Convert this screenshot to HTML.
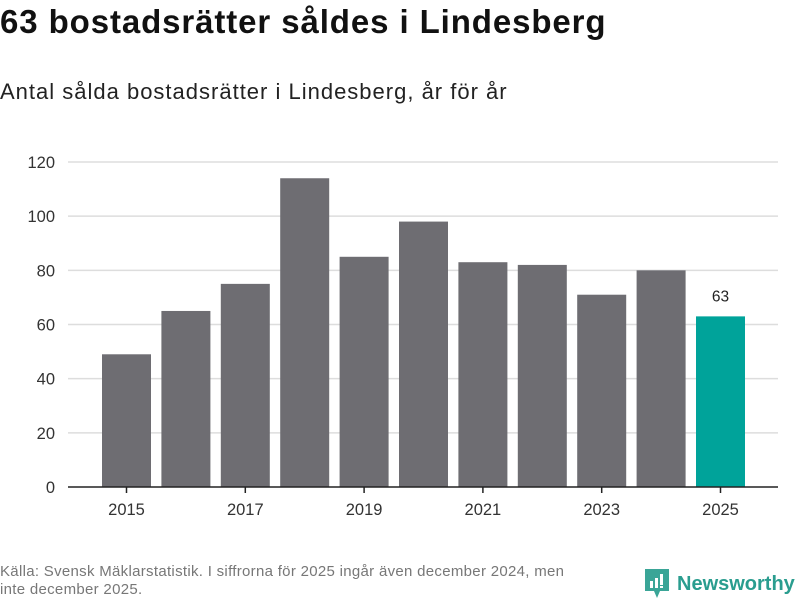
<!DOCTYPE html>
<html><head><meta charset="utf-8"><style>
body{margin:0;width:800px;height:600px;background:#fff;font-family:"Liberation Sans","DejaVu Sans",sans-serif;overflow:hidden;position:relative}
#title{position:absolute;left:0;top:3px;font-size:33px;letter-spacing:0.9px;font-weight:bold;color:#111;margin:0;white-space:nowrap}
#sub{position:absolute;left:0;top:79px;font-size:22px;letter-spacing:1px;color:#222;white-space:nowrap}
#src{position:absolute;left:0;top:563px;font-size:15px;letter-spacing:0.3px;color:#777;line-height:18px;width:660px;white-space:nowrap}
#logo{position:absolute;left:645px;top:569px;font-size:20px;font-weight:bold;color:#2a9d8f;display:flex;align-items:center;gap:8px}
svg{position:absolute;left:0;top:0}
</style></head><body>
<h1 id="title">63 bostadsrätter såldes i Lindesberg</h1>
<div id="sub">Antal sålda bostadsrätter i Lindesberg, år för år</div>
<svg id="chart" width="800" height="600"></svg>
<div id="src">Källa: Svensk Mäklarstatistik. I siffrorna för 2025 ingår även december 2024, men<br>inte december 2025.</div>
<div id="logo"><svg style="position:static" width="24" height="30" viewBox="0 0 24 30"><path d="M0 0H24V22H15L12 29L9 22H0Z" fill="#3aa597"/><rect x="5" y="12" width="3" height="7" fill="#fff"/><rect x="10" y="9" width="3" height="10" fill="#fff"/><rect x="15" y="5" width="3" height="11" fill="#fff"/><rect x="15" y="17" width="3" height="2" fill="#fff"/></svg><span>Newsworthy</span></div>
<script>
const categories=[2015,2016,2017,2018,2019,2020,2021,2022,2023,2024,2025];
const values=[49,65,75,114,85,98,83,82,71,80,63];
const yTicks=[0,20,40,60,80,100,120];
const xTickLabels=[2015,2017,2019,2021,2023,2025];
const NS="http://www.w3.org/2000/svg";
const svg=document.getElementById('chart');
const y=v=>487-v*(325/120);
const x=i=>126.5+i*59.4;
function mk(t,a){const e=document.createElementNS(NS,t);for(const k in a)e.setAttribute(k,a[k]);svg.appendChild(e);return e;}
yTicks.forEach(t=>{
 if(t>0){const l=mk('line',{x1:68,x2:778,y1:y(t),y2:y(t),stroke:'#ddd','stroke-width':1.5});
 
 }
 const tx=mk('text',{x:55,y:y(t)+6,'text-anchor':'end','font-size':16.5,fill:'#333','font-family':'Liberation Sans, DejaVu Sans, sans-serif'});
 tx.textContent=t;
 
 
});
values.forEach((v,i)=>{
 const last=i===values.length-1;
 const r=mk('rect',{x:x(i)-24.5,y:y(v),width:49,height:487-y(v),fill:last?'#00a39a':'#6e6d72'});
 
 
 if(last){const t=mk('text',{x:x(i),y:y(v)-15,'text-anchor':'middle','font-size':15.5,fill:'#222','font-family':'Liberation Sans, DejaVu Sans, sans-serif'});t.textContent=v;
 
 }
});
const ax=mk('line',{x1:68,x2:778,y1:487,y2:487,stroke:'#222','stroke-width':1.5});


xTickLabels.forEach(c=>{
 const i=categories.indexOf(c);
 const tk=mk('line',{x1:x(i),x2:x(i),y1:487,y2:493,stroke:'#222','stroke-width':1.5});
 
 
 const t=mk('text',{x:x(i),y:515,'text-anchor':'middle','font-size':16.5,fill:'#333','font-family':'Liberation Sans, DejaVu Sans, sans-serif'});
 t.textContent=c;
 
 
});
</script>
</body></html>
